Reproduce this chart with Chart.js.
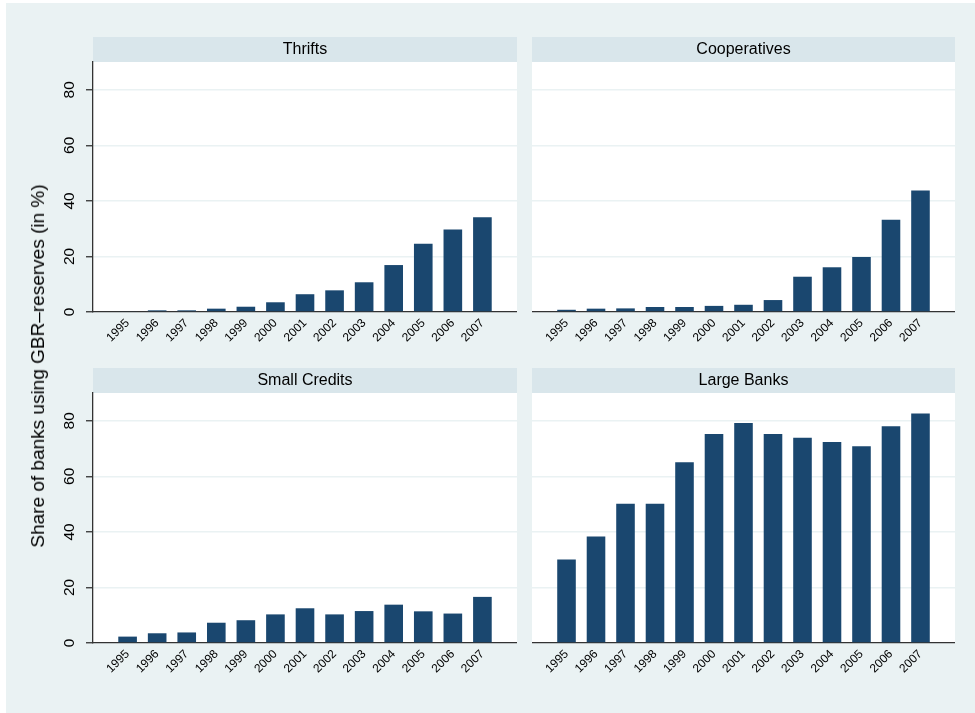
<!DOCTYPE html>
<html><head><meta charset="utf-8">
<script src="https://cdn.jsdelivr.net/npm/chart.js@4.4.1/dist/chart.umd.min.js"></script>
<style>
html,body{margin:0;padding:0;background:#fff;}
body{width:975px;height:713px;position:relative;overflow:hidden;font-family:"Liberation Sans",Arial,sans-serif;}
#bg{position:absolute;left:6px;top:3px;width:969px;height:710px;background:#eaf2f3;}
.pane{position:absolute;}
#ytitle{position:absolute;left:38px;top:366px;transform:translate(-50%,-50%) rotate(-90deg);white-space:nowrap;font-size:19px;color:#000;}
</style></head><body>
<div id="bg"></div>
<div class="pane" style="left:40px;top:37px;"><canvas id="c1" width="477" height="313"></canvas></div>
<div class="pane" style="left:532px;top:37px;"><canvas id="c2" width="423" height="313"></canvas></div>
<div class="pane" style="left:40px;top:368px;"><canvas id="c3" width="477" height="313"></canvas></div>
<div class="pane" style="left:532px;top:368px;"><canvas id="c4" width="423" height="313"></canvas></div>
<div id="ytitle">Share of banks using GBR–reserves (in %)</div>
<script>
// ---- data ----
const years = ['1995','1996','1997','1998','1999','2000','2001','2002','2003','2004','2005','2006','2007'];
const thrifts      = [0.3, 0.6, 0.6, 1.2, 1.9, 3.5, 6.4, 7.8, 10.7, 16.9, 24.6, 29.7, 34.1];
const cooperatives = [0.8, 1.2, 1.3, 1.8, 1.8, 2.2, 2.6, 4.3, 12.7, 16.1, 19.8, 33.2, 43.7];
const smallCredits = [2.3, 3.5, 3.8, 7.3, 8.2, 10.3, 12.5, 10.3, 11.5, 13.8, 11.4, 10.6, 16.6];
const largeBanks   = [30.1, 38.3, 50.1, 50.1, 65.1, 75.2, 79.2, 75.2, 73.9, 72.4, 70.8, 78.0, 82.6];
const panelTitles  = ['Thrifts', 'Cooperatives', 'Small Credits', 'Large Banks'];
const yTicks = [0, 20, 40, 60, 80];
const yMax = 90;

const FONT = 'Liberation Sans';
const BAR = '#1a476f';
const GRID = '#eaf2f3';
const AXIS = '#333333';

const panelBg = {
  id: 'panelBg',
  beforeDraw(chart) {
    const {ctx, chartArea: a} = chart;
    ctx.save();
    ctx.fillStyle = '#d9e6eb';
    ctx.fillRect(a.left, a.top - 25, a.right - a.left, 25);
    ctx.fillStyle = '#ffffff';
    ctx.fillRect(a.left, a.top, a.right - a.left, a.bottom - a.top);
    ctx.restore();
  }
};

function makeChart(id, title, values, showY) {
  const firstYear = Number(years[0]);
  const lastYear = Number(years[years.length - 1]);
  return new Chart(document.getElementById(id), {
    type: 'bar',
    data: {
      datasets: [{
        data: years.map((y, i) => ({x: Number(y), y: values[i]})),
        backgroundColor: BAR,
        borderWidth: 0,
        categoryPercentage: 1,
        barPercentage: 0.63
      }]
    },
    options: {
      responsive: false,
      animation: false,
      events: [],
      layout: {padding: 0},
      plugins: {
        legend: {display: false},
        tooltip: {enabled: false},
        title: {
          display: true, text: title, fullSize: false, color: '#000',
          font: {family: FONT, size: 16, weight: 'normal', lineHeight: 1.2},
          padding: {top: 2.7, bottom: 3.1}
        }
      },
      scales: {
        x: {
          type: 'linear',
          min: firstYear - 1.17,
          max: lastYear + 1.17,
          offset: false,
          afterBuildTicks: s => { s.ticks = years.map(y => ({value: Number(y)})); },
          ticks: {
            autoSkip: false, minRotation: 45, maxRotation: 45, padding: 4,
            color: '#000', font: {family: FONT, size: 12},
            callback: (v, i) => years[i]
          },
          grid: {display: false, drawTicks: false},
          border: {display: true, color: AXIS, width: 1.3},
          afterFit: s => { s.height = 38; s.paddingLeft = 0; s.paddingRight = 0; }
        },
        y: {
          min: 0,
          max: yMax,
          afterBuildTicks: s => { s.ticks = yTicks.map(v => ({value: v})); },
          ticks: {
            display: showY, minRotation: 90, maxRotation: 90, crossAlign: 'center',
            padding: 8, color: '#000', font: {family: FONT, size: 15.5}
          },
          grid: {
            color: c => (c.tick && c.tick.value === 0) ? 'rgba(0,0,0,0)' : GRID,
            lineWidth: 1.5,
            drawTicks: showY, tickLength: 7, tickColor: AXIS, tickWidth: 1.3
          },
          border: {display: showY, color: AXIS, width: 1.3},
          afterFit: s => { s.width = showY ? 53 : 0; s.paddingTop = 0; s.paddingBottom = 0; }
        }
      }
    },
    plugins: [panelBg]
  });
}

makeChart('c1', panelTitles[0], thrifts, true);
makeChart('c2', panelTitles[1], cooperatives, false);
makeChart('c3', panelTitles[2], smallCredits, true);
makeChart('c4', panelTitles[3], largeBanks, false);
</script>
</body></html>
